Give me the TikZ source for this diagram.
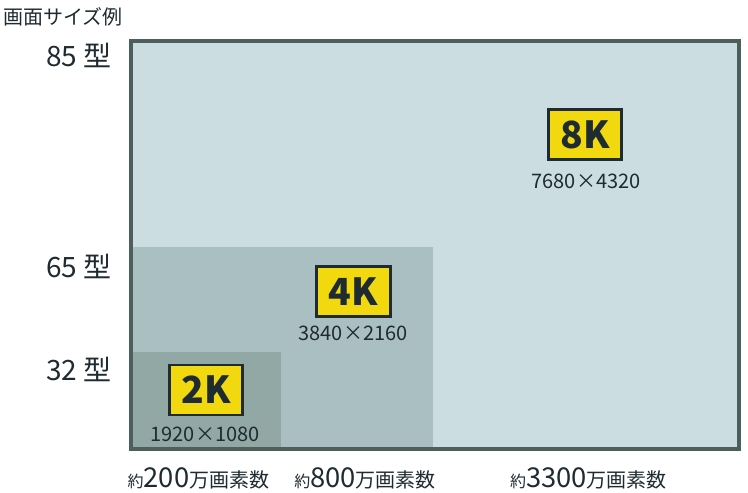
\documentclass[tikz,border=0pt]{standalone}
\usepackage{fontspec}
\setmainfont{Noto Sans CJK JP}
\definecolor{txt}{HTML}{1E2B30}
\definecolor{frame}{HTML}{4D5F5B}
\definecolor{bgA}{HTML}{CBDDE0}
\definecolor{bgB}{HTML}{A9BFC1}
\definecolor{bgC}{HTML}{92A8A5}
\definecolor{badge}{HTML}{F2D80F}
\tikzset{
  badgebox/.style={draw=txt, line width=2.2pt, fill=badge, text=txt, minimum width=55pt, minimum height=37.5pt, inner sep=0pt, font=\fontsize{28}{28}\selectfont\bfseries},
  restext/.style={text=txt, font=\fontsize{15}{15}\selectfont, inner sep=0pt},
  sizelbl/.style={text=txt, font=\fontsize{21}{21}\selectfont, inner sep=0pt, anchor=east},
  pixlbl/.style={text=txt, inner sep=0pt, anchor=base},
}
\newcommand{\pixtext}[1]{{\fontsize{12}{12}\selectfont 約}{\fontsize{20.5}{20.5}\selectfont #1}{\fontsize{15}{15}\selectfont 万画素数}}
\begin{document}
\begin{tikzpicture}[x=0.75pt,y=-0.75pt]
\useasboundingbox (0,0) rectangle (748,492);
\fill[bgA] (131,41) rectangle (739,449);
\fill[bgB] (131,247) rectangle (433,449);
\fill[bgC] (131,352) rectangle (281,449);
\draw[frame, line width=3pt] (131,41) rectangle (739,449);
\node[text=txt, font=\fontsize{15}{15}\selectfont, inner sep=0pt, anchor=west] (title) at (3,17) {画面サイズ例};
\node[sizelbl] (s85) at (112,55) {85 型};
\node[sizelbl] (s65) at (112,266) {65 型};
\node[sizelbl] (s32) at (112,369) {32 型};
\node[badgebox] (b2k) at (206,390) {2K};
\node[badgebox] (b4k) at (353.5,291.5) {4K};
\node[badgebox] (b8k) at (585,134.5) {8K};
\node[restext] (r2k) at (205,434) {1920×1080};
\node[restext] (r4k) at (353,333) {3840×2160};
\node[restext] (r8k) at (586,181) {7680×4320};
\node[pixlbl] (p2) at (198.5,487) {\pixtext{200}};
\node[pixlbl] (p8) at (365,487) {\pixtext{800}};
\node[pixlbl] (p33) at (588.5,487) {\pixtext{3300}};
\end{tikzpicture}
\end{document}
